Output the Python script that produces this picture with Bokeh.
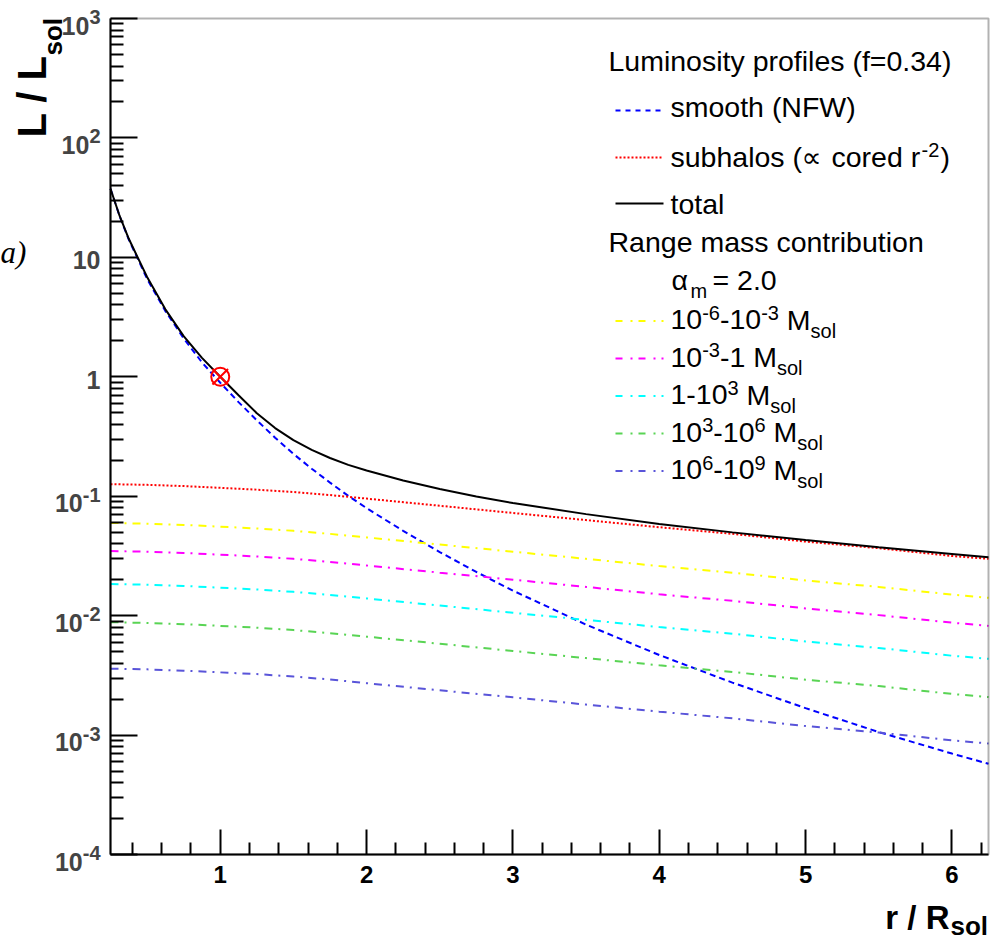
from math import pi
from bokeh.plotting import figure
from bokeh.models import (Range1d, FixedTicker, Label, Arrow, CustomJSTickFormatter,
                          LinearAxis, LogAxis, BoxAnnotation)
from bokeh.embed import file_html
from bokeh.resources import INLINE

# ---------------- data ----------------
r_fine = [0.25, 0.3125, 0.375, 0.4375, 0.5, 0.625, 0.75, 0.875, 1.0, 1.125, 1.25, 1.375,
          1.5, 1.625, 1.75, 1.875, 2.0, 2.25, 2.5, 2.75, 3.0, 3.5, 4.0, 4.5, 5.0, 5.5, 6.0, 6.25]
L_smooth = [37.5, 22.1, 14.1, 9.66, 6.61, 3.55, 2.10, 1.32, 0.891, 0.614, 0.432, 0.309,
            0.226, 0.170, 0.130, 0.1007, 0.0794, 0.0513, 0.0341, 0.0232, 0.0162, 0.00841,
            0.00468, 0.00275, 0.00168, 0.00106, 0.000700, 0.000575]
L_total = [37.5, 22.2, 14.3, 9.89, 6.84, 3.67, 2.19, 1.44, 1.00, 0.700, 0.495, 0.372,
           0.295, 0.244, 0.209, 0.183, 0.164, 0.1355, 0.1148, 0.0993, 0.0877, 0.0708,
           0.0586, 0.0498, 0.0429, 0.0373, 0.0328, 0.0308]

r_sub = [0.25, 0.5, 0.75, 1.0, 1.25, 1.5, 1.75, 2.0, 2.5, 3.0, 3.5, 4.0, 4.5, 5.0, 5.5, 6.0, 6.25]
L_subhalos = [0.1262, 0.1245, 0.1216, 0.1175, 0.1135, 0.1084, 0.1023, 0.0955, 0.0832, 0.0724,
              0.0631, 0.0550, 0.0484, 0.0417, 0.0367, 0.0316, 0.0299]
L_m6_m3 = [0.0597, 0.0589, 0.0575, 0.0556, 0.0537, 0.0513, 0.0484, 0.0452, 0.0394, 0.0343,
           0.0299, 0.0260, 0.0229, 0.0197, 0.0174, 0.0150, 0.0141]
L_m3_0 = [0.0347, 0.0343, 0.0335, 0.0324, 0.0313, 0.0299, 0.0282, 0.0263, 0.0229, 0.0200,
          0.0174, 0.0151, 0.0133, 0.0115, 0.0101, 0.00873, 0.00821]
L_0_3 = [0.01841, 0.01816, 0.01773, 0.01714, 0.01656, 0.01582, 0.01492, 0.01394, 0.01215, 0.01057,
         0.00922, 0.00802, 0.00706, 0.00607, 0.00536, 0.00462, 0.00435]
L_3_6 = [0.00881, 0.00869, 0.00849, 0.00821, 0.00793, 0.00757, 0.00714, 0.00667, 0.00582, 0.00506,
         0.00441, 0.00384, 0.00338, 0.00291, 0.00257, 0.00221, 0.00208]
L_6_9 = [0.00360, 0.00355, 0.00346, 0.00335, 0.00324, 0.00309, 0.00292, 0.00272, 0.00237, 0.00207,
         0.00180, 0.00157, 0.00138, 0.00119, 0.00105, 0.000904, 0.000850]

marker_r = [1.0]
marker_L = [1.0]

mass_series = [L_m6_m3, L_m3_0, L_0_3, L_3_6, L_6_9]
mass_colors = ["#ffff00", "#ff00ff", "#00ffff", "#59d454", "#5954d9"]
mass_labels = [
    [("10", "n"), ("-6", "sup"), ("-10", "n"), ("-3", "sup"), (" M", "n"), ("sol", "sub")],
    [("10", "n"), ("-3", "sup"), ("-1 M", "n"), ("sol", "sub")],
    [("1-10", "n"), ("3", "sup"), (" M", "n"), ("sol", "sub")],
    [("10", "n"), ("3", "sup"), ("-10", "n"), ("6", "sup"), (" M", "n"), ("sol", "sub")],
    [("10", "n"), ("6", "sup"), ("-10", "n"), ("9", "sup"), (" M", "n"), ("sol", "sub")],
]

x_lo, x_hi = 0.25, 6.25
y_lo, y_hi = 1e-4, 1e3
xtick_vals = [1, 2, 3, 4, 5, 6]
ytick_vals = [1e-4, 1e-3, 1e-2, 1e-1, 1, 10, 100, 1000]
ytick_base = ["10", "10", "10", "10", "1", "10", "10", "10"]
ytick_exp = ["-4", "-3", "-2", "-1", "", "", "2", "3"]

# ---------------- figure: frame = whole canvas, box drawn at data limits ----------------
W, H = 990, 943
FL, FR, FT, FB = 110, 988, 18, 854          # pixel edges of the plot box
PXU = (FR - FL) / (x_hi - x_lo)             # pixels per x unit
DEC = (FB - FT) / 7.0                       # pixels per decade
BL = 0.4                                    # baseline correction (fraction of font size)
LF = 28.5                                   # legend font size

p = figure(width=W, height=H, output_backend="svg", toolbar_location=None,
           x_range=Range1d(x_lo - FL / PXU, x_hi + (W - FR) / PXU),
           y_range=Range1d(10 ** (-4 - (H - FB) / DEC), 10 ** (3 + FT / DEC)),
           y_axis_type="log", x_axis_location=None, y_axis_location=None, min_border=0)
p.background_fill_color = "white"
p.border_fill_color = "white"
p.outline_line_color = None
p.grid.visible = False

xa = LinearAxis(fixed_location=y_lo, bounds=(x_lo, x_hi),
                ticker=FixedTicker(ticks=xtick_vals,
                                   minor_ticks=[round(0.2 * k, 1) for k in range(2, 32) if k % 5 != 0]))
xa.major_label_text_font = "Liberation Sans"
xa.major_label_text_font_size = "24px"
xa.major_label_text_font_style = "bold"
xa.major_label_text_color = "black"
xa.major_label_standoff = 11
p.add_layout(xa, "below")

ya = LogAxis(fixed_location=x_lo, bounds=(y_lo, y_hi),
             ticker=FixedTicker(ticks=ytick_vals,
                                minor_ticks=[m * 10.0 ** e for e in range(-4, 3) for m in range(2, 10)]),
             formatter=CustomJSTickFormatter(code="return ''"))
p.add_layout(ya, "left")

for ax, big, small in ((xa, 25, 12), (ya, 27, 13)):
    ax.major_tick_in = big
    ax.major_tick_out = 0
    ax.minor_tick_in = small
    ax.minor_tick_out = 0
    ax.major_tick_line_width = 2
    ax.minor_tick_line_width = 2
    ax.axis_line_width = 2

p.add_layout(BoxAnnotation(left=x_lo, right=x_hi, bottom=y_lo, top=y_hi, fill_color=None,
                           line_color="black", line_width=2))

# ---------------- curves ----------------
p.line(r_fine, L_smooth, line_color="#0000ff", line_width=2, line_dash="6 4")
p.line(r_sub, L_subhalos, line_color="#ff0000", line_width=2, line_dash="2 2")
for ys, c in zip(mass_series, mass_colors):
    p.line(r_sub, ys, line_color=c, line_width=2, line_dash="8 6 2 6")
p.line(r_fine, L_total, line_color="black", line_width=2)
p.scatter(marker_r, marker_L, marker="circle", size=18, fill_color=None,
          line_color="#ff0000", line_width=2)
p.scatter(marker_r, marker_L, marker="x", size=22, line_color="#ff0000", line_width=2)

# ---------------- text helpers ----------------
REG = {' ': 278, '-': 333, '.': 278, '=': 584, 'M': 833, 's': 500, 'o': 556, 'l': 222}
for d in "0123456789":
    REG[d] = 556


def width(s, fs):
    return sum(REG.get(ch, 556) for ch in s) * fs / 1000.0


def txt(X, Y, s, size, style="normal", font="Liberation Sans", align="left", vertical=False):
    if vertical:
        X, Y, ang = X - BL * size, Y, pi / 2
    else:
        Y, ang = Y - BL * size, 0.0
    p.add_layout(Label(x=X, y=H - Y, x_units="screen", y_units="screen", text=s,
                       text_font=font, text_font_size=f"{size}px", text_font_style=style,
                       text_align=align, text_baseline="alphabetic", angle=ang,
                       text_color="black"))


def rich(X, Y, pieces, size=LF, small=20, up=10.5, down=7.5):
    x = X
    for s, kind in pieces:
        fs = size if kind == "n" else small
        dy = 0 if kind == "n" else (-up if kind == "sup" else down)
        if s.startswith(" "):
            x += width(" ", fs)
            s = s[1:]
        txt(x, Y + dy, s, fs)
        x += width(s, fs)


def leg_line(Y, color, dash, lw=2):
    p.add_layout(Arrow(end=None, x_start=615, y_start=H - Y, x_end=663, y_end=H - Y,
                       start_units="screen", end_units="screen", line_color=color,
                       line_width=lw, line_dash=dash))


def tick_label(v, s, X, drop, size):
    p.add_layout(Label(x=X, y=v, x_units="screen", y_units="data",
                       y_offset=-drop + BL * size, text=s, text_font="Liberation Sans",
                       text_font_size=f"{size}px", text_font_style="bold",
                       text_align="right", text_baseline="alphabetic"))


# ---------------- y tick labels ----------------
for v, b, e in zip(ytick_vals, ytick_base, ytick_exp):
    if e:
        supw = sum(REG[ch] for ch in e) * 20 / 1000.0
        tick_label(v, b, 100 - supw, 17, 25)
        tick_label(v, e, 100, 6.5, 20)
    else:
        tick_label(v, b, 100, 13, 25)

# ---------------- axis titles ----------------
txt(949, 930, "r / R", 33, style="bold", align="right")
txt(950, 936, "sol", 26, style="bold")
txt(47, 137, "L / L", 40, style="bold", vertical=True)
txt(63, 55, "sol", 26, style="bold", vertical=True)

# fragment at the left edge of the picture
txt(0, 264, "a)", 31, style="italic", font="Liberation Serif")

# ---------------- legend ----------------
txt(608, 72, "Luminosity profiles (f=0.34)", LF)
leg_line(110, "#0000ff", "5 5")
txt(670, 118, "smooth (NFW)", LF)
leg_line(157, "#ff0000", "2 2")
txt(670, 168, "subhalos (", LF)
txt(801, 168, "\u221d", 28, font="DejaVu Sans")
txt(831, 168, "cored r", LF)
txt(921, 157.5, "-2", 20)
txt(940, 168, ")", LF)
leg_line(203, "black", "solid")
txt(670, 215, "total", LF)
txt(608, 253, "Range mass contribution", LF)
txt(671, 290.5, "\u03b1", LF)
txt(690, 298, "m", 20)
txt(712, 290.5, "= 2.0", LF)

row_base = [330.5, 368, 405.5, 443, 480.5]
for Y, pieces, c in zip(row_base, mass_labels, mass_colors):
    leg_line(Y - 10, c, "7 8 2 6")
    rich(670, Y, pieces)

open("out.html", "w").write(file_html(p, INLINE))
